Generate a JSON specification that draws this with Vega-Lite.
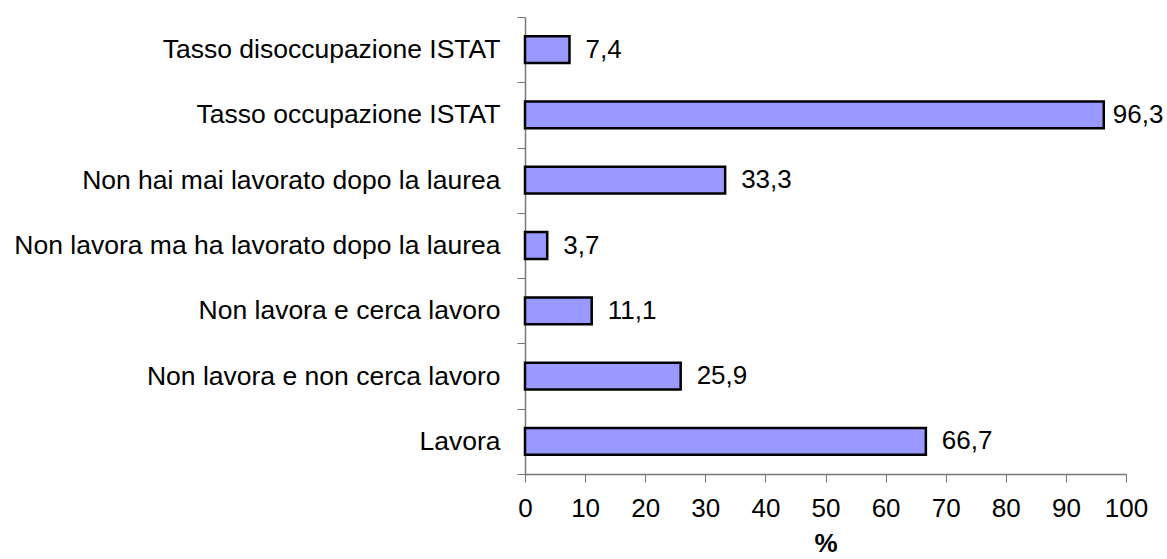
{
  "$schema": "https://vega.github.io/schema/vega-lite/v6.json",
  "width": 601,
  "height": 457,
  "autosize": "none",
  "padding": {"left": 525, "top": 17, "right": 41, "bottom": 85},
  "background": "white",
  "config": {
    "view": {"stroke": null},
    "font": "Liberation Sans",
    "locale": {"number": {"decimal": ",", "thousands": ".", "grouping": [3], "currency": ["€", ""]}}
  },
  "data": {
    "values": [
      {"voce": "Tasso disoccupazione ISTAT", "valore": 7.4},
      {"voce": "Tasso occupazione ISTAT", "valore": 96.3},
      {"voce": "Non hai mai lavorato dopo la laurea", "valore": 33.3},
      {"voce": "Non lavora ma ha lavorato dopo la laurea", "valore": 3.7},
      {"voce": "Non lavora e cerca lavoro", "valore": 11.1},
      {"voce": "Non lavora e non cerca lavoro", "valore": 25.9},
      {"voce": "Lavora", "valore": 66.7}
    ]
  },
  "encoding": {
    "y": {
      "field": "voce",
      "type": "nominal",
      "sort": null,
      "scale": {"paddingInner": 0, "paddingOuter": 0},
      "axis": {
        "title": null,
        "tickBand": "extent",
        "tickSize": 8,
        "tickColor": "#777",
        "domainColor": "#777",
        "domainWidth": 1.5,
        "labelFontSize": 26.5,
        "labelColor": "black",
        "labelPadding": 17,
        "labelLimit": 600
      }
    },
    "x": {
      "field": "valore",
      "type": "quantitative",
      "scale": {"domain": [0, 100], "nice": false},
      "axis": {
        "title": "%",
        "titleFontSize": 26,
        "titleFontWeight": "bold",
        "titleColor": "black",
        "titlePadding": 9,
        "values": [0, 10, 20, 30, 40, 50, 60, 70, 80, 90, 100],
        "format": "d",
        "grid": false,
        "labelFlush": false,
        "labelOverlap": false,
        "tickSize": 8,
        "tickColor": "#777",
        "domainColor": "#777",
        "domainWidth": 1.5,
        "labelFontSize": 26,
        "labelColor": "black",
        "labelPadding": 13
      }
    }
  },
  "layer": [
    {
      "mark": {"type": "bar", "fill": "#9999FF", "stroke": "black", "strokeWidth": 2.5, "height": {"band": 0.41}}
    },
    {
      "transform": [{"filter": "datum.valore < 90"}],
      "mark": {"type": "text", "align": "left", "baseline": "middle", "dx": 16, "fontSize": 26, "color": "black"},
      "encoding": {
        "text": {"field": "valore", "type": "quantitative", "format": ".1f"}
      }
    },
    {
      "transform": [{"filter": "datum.valore >= 90"}],
      "mark": {"type": "text", "align": "left", "baseline": "middle", "dx": 9, "fontSize": 26, "color": "black"},
      "encoding": {
        "text": {"field": "valore", "type": "quantitative", "format": ".1f"}
      }
    }
  ]
}
